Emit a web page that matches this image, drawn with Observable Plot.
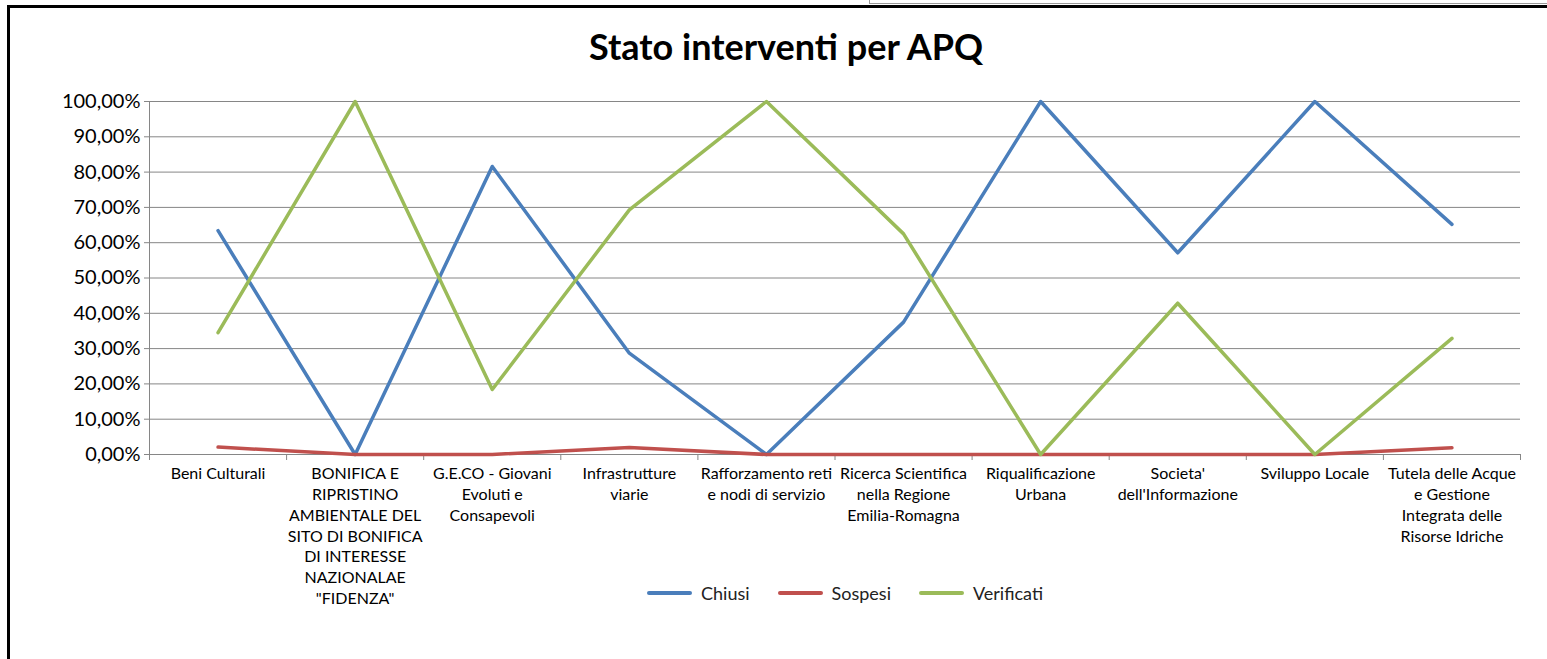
<!DOCTYPE html>
<html><head><meta charset="utf-8">
<script src="https://cdn.jsdelivr.net/npm/d3@7"></script>
<script src="https://cdn.jsdelivr.net/npm/@observablehq/plot@0.6"></script>
<style>
body{margin:0;background:#fff;width:1547px;height:659px;overflow:hidden;position:relative;font-family:Lato,sans-serif}
#frame{position:absolute;left:7px;top:5px;width:1560px;height:680px;border-top:3px solid #000;border-left:3px solid #000}
#cell{position:absolute;left:869px;top:-2px;width:700px;height:5px;border-left:1px solid #999;border-bottom:1px solid #999}
#title{position:absolute;left:0;width:1572px;top:25px;text-align:center;font-weight:700;font-size:36px;color:#000;line-height:1.2}
#chart{position:absolute;left:0;top:0}
#legend{position:absolute;top:582px;left:0;width:1690px;display:flex;justify-content:center;align-items:center;font-size:18px;color:#222}
.item{display:flex;align-items:center;margin:0 14px}
.sw{width:45px;height:4px;border-radius:2px;margin-right:9px}
</style></head>
<body>
<div id="cell"></div>
<div id="frame"></div>
<div id="chart"></div>
<div id="title">Stato interventi per APQ</div>
<div id="legend"></div>
<script>
const categories = [
  "Beni Culturali",
  "BONIFICA E\nRIPRISTINO\nAMBIENTALE DEL\nSITO DI BONIFICA\nDI INTERESSE\nNAZIONALAE\n\"FIDENZA\"",
  "G.E.CO - Giovani\nEvoluti e\nConsapevoli",
  "Infrastrutture\nviarie",
  "Rafforzamento reti\ne nodi di servizio",
  "Ricerca Scientifica\nnella Regione\nEmilia-Romagna",
  "Riqualificazione\nUrbana",
  "Societa'\ndell'Informazione",
  "Sviluppo Locale",
  "Tutela delle Acque\ne Gestione\nIntegrata delle\nRisorse Idriche"
];
const chiusi     = [0.634, 0, 0.816, 0.287, 0, 0.375, 1, 0.5714, 1, 0.652];
const sospesi    = [0.021, 0, 0, 0.020, 0, 0, 0, 0, 0, 0.019];
const verificati = [0.345, 1, 0.184, 0.693, 1, 0.625, 0, 0.4286, 0, 0.329];
const seriesNames = ["Chiusi", "Sospesi", "Verificati"];
const seriesColors = ["#4A7EBB", "#C0504D", "#9BBB59"];
const yTicks = [0, 0.1, 0.2, 0.3, 0.4, 0.5, 0.6, 0.7, 0.8, 0.9, 1];

const seriesValues = [chiusi, sospesi, verificati];
const rows = seriesNames.flatMap((s, k) => categories.map((c, i) => ({i, cat: c, serie: s, v: seriesValues[k][i]})));
const fmt = d => (d * 100).toFixed(2).replace(".", ",") + "%";
const grid = "#868686";

const chart = Plot.plot({
  width: 1547, height: 659,
  marginLeft: 149, marginRight: 27, marginTop: 101, marginBottom: 205,
  style: {fontFamily: "Lato, sans-serif", fontSize: "14px", color: "#000", background: "transparent", overflow: "visible"},
  x: {domain: [0, categories.length], axis: null, label: null},
  y: {domain: [0, 1], axis: null, label: null},
  color: {domain: seriesNames, range: seriesColors},
  marks: [
    Plot.gridY(yTicks, {stroke: grid, strokeOpacity: 1}),
    Plot.axisY(yTicks, {tickSize: 5, tickPadding: 4, tickFormat: fmt, fontSize: 20, stroke: grid, label: null}),
    Plot.axisX(d3.range(categories.length + 1), {tickSize: 6, tickFormat: () => "", stroke: grid, label: null}),
    Plot.ruleY([0], {stroke: grid}),
    Plot.ruleX([0], {stroke: grid}),
    Plot.line(rows, {x: d => d.i + 0.5, y: "v", z: "serie", stroke: "serie", strokeWidth: 3.5}),
    Plot.text(categories, {x: (d, i) => i + 0.5, y: () => 0, text: d => d, dy: 10, lineAnchor: "top", lineHeight: 1.3, fontSize: 16, fill: "#000"})
  ]
});
document.getElementById("chart").appendChild(chart);

const legend = document.getElementById("legend");
seriesNames.forEach((n, k) => {
  const it = document.createElement("div"); it.className = "item";
  const sw = document.createElement("div"); sw.className = "sw"; sw.style.background = seriesColors[k];
  const tx = document.createElement("span"); tx.textContent = n;
  it.appendChild(sw); it.appendChild(tx); legend.appendChild(it);
});
</script>
</body></html>
